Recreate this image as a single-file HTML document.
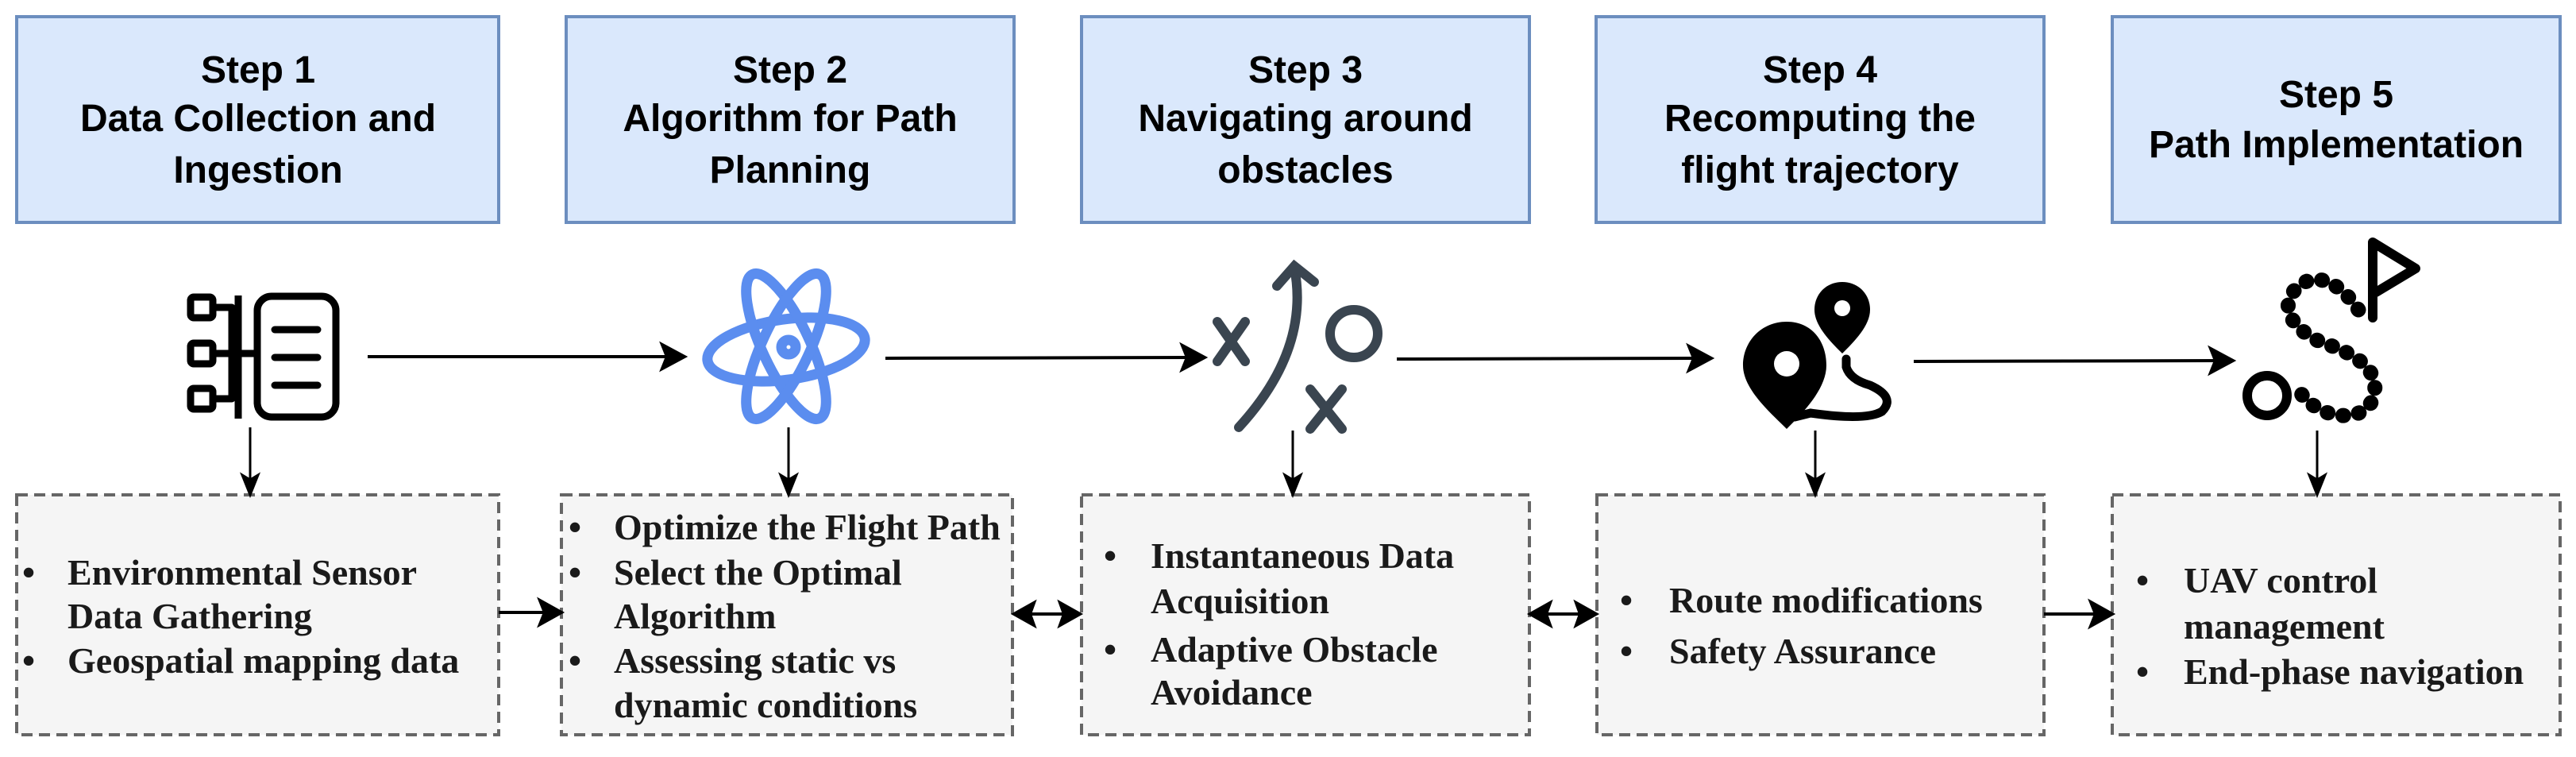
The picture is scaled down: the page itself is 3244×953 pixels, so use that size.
<!DOCTYPE html>
<html><head><meta charset="utf-8"><style>
html,body{margin:0;padding:0;background:#fff}
svg{display:block}
.t{font-family:"Liberation Sans",Arial,sans-serif;font-weight:bold;font-size:48px;fill:#000;text-anchor:middle}
.b{font-family:"Liberation Serif","Times New Roman",serif;font-weight:bold;font-size:46px;fill:#1a1a1a}
</style></head><body>
<svg width="3244" height="953" viewBox="0 0 3244 953" xmlns="http://www.w3.org/2000/svg">
<g fill="#dae8fc" stroke="#6c8ebf" stroke-width="4">
<rect x="21" y="21" width="607" height="259"/>
<rect x="713" y="21" width="564" height="259"/>
<rect x="1362" y="21" width="564" height="259"/>
<rect x="2010" y="21" width="564" height="259"/>
<rect x="2660" y="21" width="564" height="259"/>
</g>
<text class="t" x="325" y="104">Step 1</text>
<text class="t" x="325" y="165">Data Collection and</text>
<text class="t" x="325" y="230">Ingestion</text>
<text class="t" x="995" y="104">Step 2</text>
<text class="t" x="995" y="165">Algorithm for Path</text>
<text class="t" x="995" y="230">Planning</text>
<text class="t" x="1644" y="104">Step 3</text>
<text class="t" x="1644" y="165">Navigating around</text>
<text class="t" x="1644" y="230">obstacles</text>
<text class="t" x="2292" y="104">Step 4</text>
<text class="t" x="2292" y="165">Recomputing the</text>
<text class="t" x="2292" y="230">flight trajectory</text>
<text class="t" x="2942" y="135">Step 5</text>
<text class="t" x="2942" y="198">Path Implementation</text>

<g fill="#f5f5f5" stroke="#666" stroke-width="4" stroke-dasharray="14 8">
<rect x="21" y="623" width="607" height="302"/>
<rect x="707" y="623" width="568" height="302"/>
<rect x="1362" y="623" width="564" height="302"/>
<rect x="2011" y="623" width="563" height="302"/>
<rect x="2660" y="623" width="564" height="302"/>
</g>
<g>
<text class="b" x="28" y="736">•</text><text class="b" x="85" y="736">Environmental Sensor</text>
<text class="b" x="85" y="791">Data Gathering</text>
<text class="b" x="28" y="847">•</text><text class="b" x="85" y="847">Geospatial mapping data</text>

<text class="b" x="716" y="679">•</text><text class="b" x="773" y="679">Optimize the Flight Path</text>
<text class="b" x="716" y="736">•</text><text class="b" x="773" y="736">Select the Optimal</text>
<text class="b" x="773" y="791">Algorithm</text>
<text class="b" x="716" y="847">•</text><text class="b" x="773" y="847">Assessing static vs</text>
<text class="b" x="773" y="903">dynamic conditions</text>

<text class="b" x="1390" y="715">•</text><text class="b" x="1449" y="715">Instantaneous Data</text>
<text class="b" x="1449" y="772">Acquisition</text>
<text class="b" x="1390" y="833">•</text><text class="b" x="1449" y="833">Adaptive Obstacle</text>
<text class="b" x="1449" y="887">Avoidance</text>

<text class="b" x="2040" y="771">•</text><text class="b" x="2102" y="771">Route modifications</text>
<text class="b" x="2040" y="835">•</text><text class="b" x="2102" y="835">Safety Assurance</text>

<text class="b" x="2690" y="746">•</text><text class="b" x="2750" y="746">UAV control</text>
<text class="b" x="2750" y="804">management</text>
<text class="b" x="2690" y="861">•</text><text class="b" x="2750" y="861">End-phase navigation</text>
</g>

<g stroke="#000" stroke-width="4" fill="#000">
<line x1="463" y1="449" x2="850" y2="449"/><path d="M862 449 L834 434 L840 449 L834 464Z"/>
<line x1="1115" y1="451" x2="1505" y2="450"/><path d="M1517 450 L1489 435 L1495 450 L1489 465Z"/>
<line x1="1759" y1="452" x2="2143" y2="451"/><path d="M2155 451 L2127 436 L2133 451 L2127 466Z"/>
<line x1="2410" y1="455" x2="2800" y2="454"/><path d="M2812 454 L2784 439 L2790 454 L2784 469Z"/>
</g>
<g stroke="#000" stroke-width="3" fill="#000">
<line x1="315" y1="538" x2="315" y2="612"/><path d="M315 623 L305 598 L315 604 L325 598Z"/>
<line x1="993" y1="538" x2="993" y2="612"/><path d="M993 623 L983 598 L993 604 L1003 598Z"/>
<line x1="1628" y1="542" x2="1628" y2="612"/><path d="M1628 623 L1618 598 L1628 604 L1638 598Z"/>
<line x1="2286" y1="542" x2="2286" y2="612"/><path d="M2286 623 L2276 598 L2286 604 L2296 598Z"/>
<line x1="2918" y1="542" x2="2918" y2="612"/><path d="M2918 623 L2908 598 L2918 604 L2928 598Z"/>
</g>
<g stroke="#000" stroke-width="4" fill="#000">
<line x1="628" y1="771" x2="695" y2="771"/><path d="M707 771 L680 756 L686 771 L680 786Z"/>
<line x1="1290" y1="773" x2="1348" y2="773"/><path d="M1277 773 L1302 759 L1297 773 L1302 787Z"/><path d="M1360 773 L1335 759 L1340 773 L1335 787Z"/>
<line x1="1940" y1="773" x2="1998" y2="773"/><path d="M1927 773 L1952 759 L1947 773 L1952 787Z"/><path d="M2010 773 L1985 759 L1990 773 L1985 787Z"/>
<line x1="2574" y1="773" x2="2648" y2="773"/><path d="M2660 773 L2633 758 L2639 773 L2633 788Z"/>
</g>

<g stroke="#000" stroke-width="9" fill="none" stroke-linejoin="round">
<rect x="240" y="374" width="28" height="26" rx="4"/>
<rect x="240" y="432" width="28" height="26" rx="4"/>
<rect x="240" y="489" width="28" height="26" rx="4"/>
<path d="M268 387 H292 V502 H268 M268 445 H320"/>
<line x1="300" y1="372" x2="300" y2="527"/>
<rect x="324" y="373" width="99" height="152" rx="18"/>
<path d="M346 415 H400 M346 450 H400 M346 485 H400" stroke-linecap="round"/>
</g>
<g stroke="#5b8def" stroke-width="13" fill="none">
<ellipse cx="990" cy="440" rx="100" ry="38" transform="rotate(-8 990 440)"/>
<ellipse cx="990" cy="436" rx="100" ry="30" transform="rotate(65 990 436)"/>
<ellipse cx="990" cy="436" rx="100" ry="30" transform="rotate(-65 990 436)"/>
<circle cx="993" cy="437" r="9"/>
</g>
<g stroke="#3a4550" stroke-width="12" fill="none" stroke-linecap="round">
<path d="M1533 405 L1568 455 M1568 405 L1533 455"/>
<path d="M1650 490 L1690 540 M1690 490 L1650 540"/>
<circle cx="1705" cy="420" r="30"/>
<path d="M1560 538 Q1650 440 1630 337"/>
<path d="M1608 360 L1630 335 L1655 355"/>
</g>
<g fill="#000">
<path d="M2250 405 C2218 405 2195 430 2195 460 C2195 490 2230 520 2250 540 C2270 520 2300 490 2300 460 C2300 430 2282 405 2250 405Z"/>
<circle cx="2250" cy="458" r="16" fill="#fff"/>
<path d="M2320 355 C2300 355 2285 370 2285 390 C2285 410 2305 430 2320 445 C2335 430 2355 410 2355 390 C2355 370 2340 355 2320 355Z"/>
<circle cx="2320" cy="388" r="10" fill="#fff"/>
</g>
<path d="M2325 452 V462 Q2330 478 2355 485 Q2388 500 2370 518 Q2350 530 2280 520 L2260 525" stroke="#000" stroke-width="11" fill="none" stroke-linecap="round"/>
<g stroke="#000" stroke-width="12" fill="none" stroke-linecap="round" stroke-linejoin="round">
<path d="M2988 400 V305 L3042 338 L2992 368"/>
<circle cx="2855" cy="498" r="25"/>
<path d="M2970 390 C2950 360 2920 340 2895 360 C2860 390 2900 425 2935 435 C2975 450 2995 470 2990 495 C2985 525 2950 530 2920 515 C2905 505 2900 500 2898 495" stroke-dasharray="1 19" stroke-width="19"/>
</g>
</svg>
</body></html>
